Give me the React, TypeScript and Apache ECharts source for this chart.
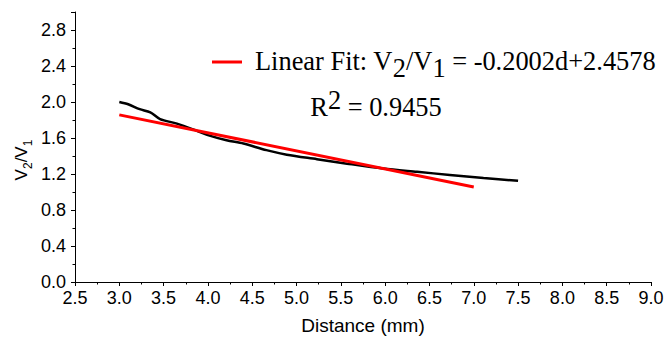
import React, { useEffect, useRef } from "react";
import * as echarts from "echarts";

const distance = [3.0, 3.1, 3.23, 3.35, 3.46, 3.65, 3.87, 3.99, 4.21, 4.4, 4.66, 4.89, 5.23, 5.57, 5.98, 6.36, 6.73, 7.11, 7.5];
const ratio = [2.0, 1.975, 1.92, 1.885, 1.81, 1.76, 1.682, 1.635, 1.575, 1.538, 1.465, 1.415, 1.365, 1.315, 1.26, 1.224, 1.19, 1.155, 1.125];
const fitX = [3.0, 7.0];
const fitSlope = -0.2002;
const fitIntercept = 2.4578;
const fitY = fitX.map((x) => fitIntercept + fitSlope * x);

export default function App() {
  const ref = useRef<HTMLDivElement>(null);
  useEffect(() => {
    const chart = echarts.init(ref.current!, null, { renderer: "svg" });
    const serif = "'Liberation Serif', 'Times New Roman', serif";
    const sans = "'Liberation Sans', Arial, sans-serif";
    chart.setOption({
      animation: false,
      grid: { left: 75, right: 17, top: 12, bottom: 59 },
      xAxis: {
        type: "value",
        min: 2.5,
        max: 9.0,
        interval: 0.5,
        name: "Distance (mm)",
        nameLocation: "middle",
        nameGap: 34,
        nameTextStyle: { fontFamily: sans, fontSize: 19, color: "#000" },
        axisLine: { onZero: false, lineStyle: { color: "#000", width: 1 } },
        axisTick: { length: 4, lineStyle: { color: "#000" } },
        minorTick: { show: true, splitNumber: 2, length: 2.5, lineStyle: { color: "#000" } },
        axisLabel: { fontFamily: sans, fontSize: 18, color: "#000", margin: 7, formatter: (v: number) => v.toFixed(1) },
        splitLine: { show: false },
      },
      yAxis: {
        type: "value",
        min: 0,
        max: 3.0,
        interval: 0.4,
        axisLine: { show: true, onZero: false, lineStyle: { color: "#000", width: 1 } },
        axisTick: { length: 4, lineStyle: { color: "#000" } },
        minorTick: { show: true, splitNumber: 2, length: 2.5, lineStyle: { color: "#000" } },
        axisLabel: {
          fontFamily: sans,
          fontSize: 18,
          color: "#000",
          margin: 9,
          showMaxLabel: false,
          formatter: (v: number) => (v > 2.9 ? "" : v.toFixed(1)),
        },
        splitLine: { show: false },
      },
      graphic: [
        {
          type: "text",
          x: 21,
          y: 160,
          rotation: Math.PI / 2,
          style: {
            text: "{a|V}{s|2}{a|/V}{s|1}",
            align: "center",
            verticalAlign: "middle",
            rich: {
              a: { fontFamily: sans, fontSize: 17, fill: "#000", lineHeight: 26, verticalAlign: "middle" },
              s: { fontFamily: sans, fontSize: 12, fill: "#000", lineHeight: 26, verticalAlign: "bottom" },
            },
          },
        },
        {
          type: "line",
          shape: { x1: 212, y1: 62, x2: 242, y2: 62 },
          style: { stroke: "#ff0000", lineWidth: 3 },
        },
        {
          type: "text",
          x: 255,
          y: 61,
          style: {
            text: "{a|Linear Fit: V}{s|2}{a|/V}{s|1}{a| = -0.2002d+2.4578}",
            verticalAlign: "middle",
            align: "left",
            rich: {
              a: { fontFamily: serif, fontSize: 26.4, fill: "#000", lineHeight: 40, verticalAlign: "middle" },
              s: { fontFamily: serif, fontSize: 26.4, fill: "#000", lineHeight: 40, verticalAlign: "bottom" },
            },
          },
        },
        {
          type: "text",
          x: 376,
          y: 107,
          style: {
            text: "{a|R}{p|2}{a| = 0.9455}",
            verticalAlign: "middle",
            align: "center",
            rich: {
              a: { fontFamily: serif, fontSize: 26.4, fill: "#000", lineHeight: 40, verticalAlign: "middle" },
              p: { fontFamily: serif, fontSize: 26.4, fill: "#000", lineHeight: 40, verticalAlign: "top" },
            },
          },
        },
      ],
      series: [
        {
          type: "line",
          data: distance.map((d, i) => [d, ratio[i]]),
          showSymbol: false,
          smooth: 0.3,
          lineStyle: { color: "#000", width: 2.5 },
        },
        {
          type: "line",
          data: fitX.map((d, i) => [d, fitY[i]]),
          showSymbol: false,
          lineStyle: { color: "#ff0000", width: 3 },
        },
      ],
    });
    return () => chart.dispose();
  }, []);
  return <div ref={ref} style={{ width: 668, height: 341, position: "absolute", left: 0, top: 0 }} />;
}
